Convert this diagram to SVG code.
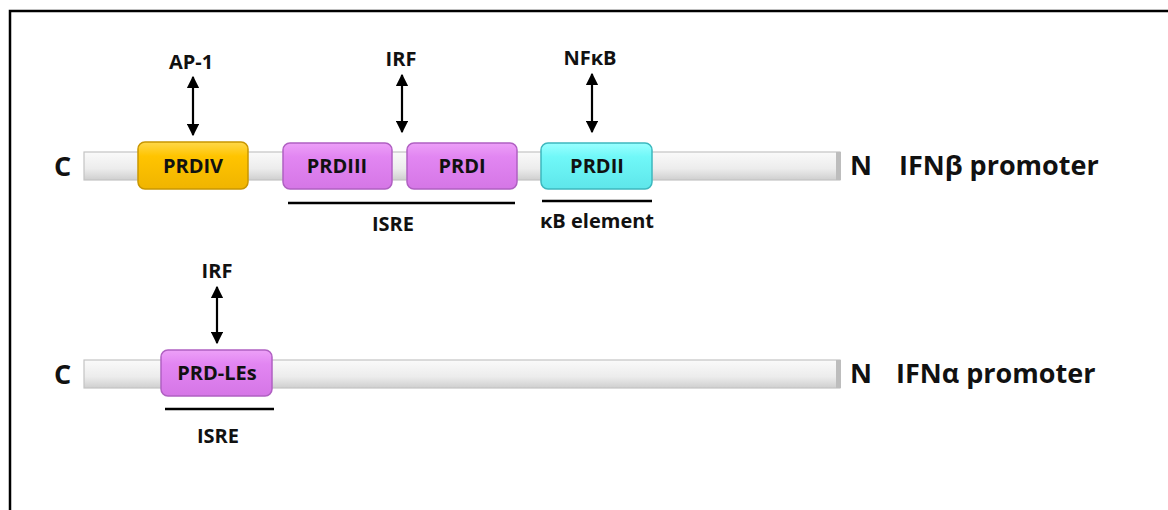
<svg xmlns="http://www.w3.org/2000/svg" width="1168" height="510" viewBox="0 0 1168 510">
<defs>
<linearGradient id="barG" x1="0" y1="0" x2="0" y2="1">
<stop offset="0" stop-color="#fafafa"/><stop offset="0.6" stop-color="#ececec"/><stop offset="1" stop-color="#cfcfcf"/>
</linearGradient>
<linearGradient id="gold" x1="0" y1="0" x2="0" y2="1">
<stop offset="0" stop-color="#FFD84A"/><stop offset="0.3" stop-color="#FFC400"/><stop offset="1" stop-color="#F0B400"/>
</linearGradient>
<linearGradient id="violet" x1="0" y1="0" x2="0" y2="1">
<stop offset="0" stop-color="#EDA0F8"/><stop offset="0.3" stop-color="#E286F2"/><stop offset="1" stop-color="#D576E6"/>
</linearGradient>
<linearGradient id="cyan" x1="0" y1="0" x2="0" y2="1">
<stop offset="0" stop-color="#9AFFFF"/><stop offset="0.3" stop-color="#70F8F8"/><stop offset="1" stop-color="#5EE6EA"/>
</linearGradient>
<marker id="ah" viewBox="0 0 10 10" refX="9" refY="5" markerWidth="5.5" markerHeight="5.5" orient="auto-start-reverse">
<path d="M0,0 L10,5 L0,10 z" fill="#000"/>
</marker>
</defs>
<style>
text{font-family:"Open Sans","Liberation Sans",sans-serif;font-weight:bold;fill:#111;}
.lbl{font-size:20px;text-anchor:middle;}
.end{font-size:27px;}
.big{font-size:27px;}
.bar{fill:url(#barG);stroke:#c4c4c4;stroke-width:1.2;}
.barEnd{fill:#bdbdbd;}
.gold{fill:url(#gold);stroke:#C99600;stroke-width:1.5;}
.violet{fill:url(#violet);stroke:#B060C2;stroke-width:1.5;}
.cyan{fill:url(#cyan);stroke:#3CB8BE;stroke-width:1.5;}
.arrow{stroke:#000;stroke-width:2.2;marker-start:url(#ah);marker-end:url(#ah);fill:none;}
.ul{stroke:#000;stroke-width:2.5;}
</style>
<rect width="1168" height="510" fill="#fff"/>
<path d="M10,510 V11 H1168" fill="none" stroke="#000" stroke-width="2.5"/>

<g id="bar1">
<rect class="bar" x="84" y="152" width="756" height="28"/>
<rect class="barEnd" x="836" y="152" width="5" height="28"/>
<text class="end" x="54" y="176">C</text>
<text class="end" x="850" y="175">N</text>
<text class="big" x="899" y="175">IFNβ promoter</text>
</g>

<g id="bar2">
<rect class="bar" x="84" y="360" width="756" height="28"/>
<rect class="barEnd" x="836" y="360" width="5" height="28"/>
<text class="end" x="54" y="384">C</text>
<text class="end" x="850" y="383">N</text>
<text class="big" x="896" y="383">IFNα promoter</text>
</g>

<g id="connectors">
<line class="arrow" x1="193" y1="77" x2="193" y2="135"/>
<line class="arrow" x1="402" y1="75" x2="402" y2="132"/>
<line class="arrow" x1="592" y1="74" x2="592" y2="132"/>
<line class="arrow" x1="217" y1="287" x2="217" y2="343"/>
<line class="ul" x1="288" y1="203" x2="515" y2="203"/>
<line class="ul" x1="542" y1="201" x2="652" y2="201"/>
<line class="ul" x1="165" y1="409" x2="274" y2="409"/>
</g>

<g id="AP1"><text class="lbl" x="191" y="69">AP-1</text></g>
<g id="IRF1"><text class="lbl" x="401" y="66">IRF</text></g>
<g id="NFkB"><text class="lbl" x="590" y="65">NFκB</text></g>
<g id="IRF2"><text class="lbl" x="217" y="278">IRF</text></g>

<g id="PRDIV">
<rect class="gold" x="138" y="142" width="110" height="47" rx="7"/>
<text class="lbl" x="193" y="173">PRDIV</text>
</g>
<g id="PRDIII">
<rect class="violet" x="283" y="143" width="109" height="46" rx="7"/>
<text class="lbl" x="337" y="173">PRDIII</text>
</g>
<g id="PRDI">
<rect class="violet" x="407" y="143" width="110" height="46" rx="7"/>
<text class="lbl" x="462" y="173">PRDI</text>
</g>
<g id="PRDII">
<rect class="cyan" x="541" y="143" width="111" height="46" rx="7"/>
<text class="lbl" x="597" y="173">PRDII</text>
</g>
<g id="PRDLEs">
<rect class="violet" x="161" y="350" width="111" height="46" rx="7"/>
<text class="lbl" x="217" y="380">PRD-LEs</text>
</g>

<g id="ISRE1"><text class="lbl" x="393" y="231">ISRE</text></g>
<g id="kB"><text class="lbl" x="597" y="228">κB element</text></g>
<g id="ISRE2"><text class="lbl" x="218" y="443">ISRE</text></g>
</svg>
